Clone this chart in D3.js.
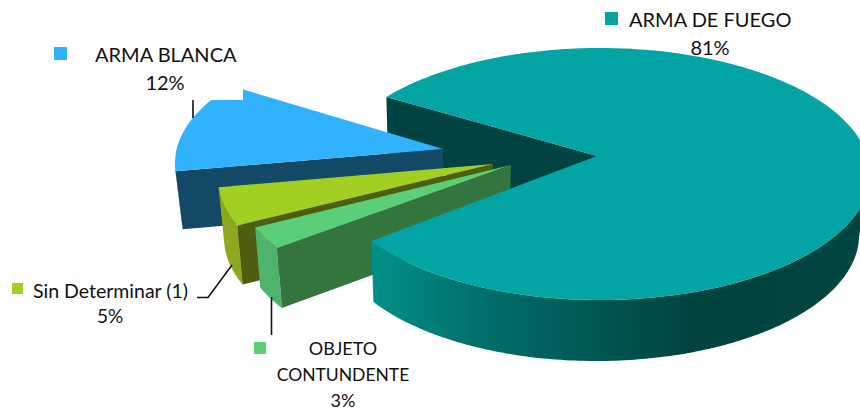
<!DOCTYPE html>
<html>
<head>
<meta charset="utf-8">
<style>
body { margin: 0; background: #fff; }
svg { display: block; }
text { font-family: Lato, "Open Sans", sans-serif; fill: #111; }
</style>
</head>
<body>
<svg width="860" height="410"></svg>
<script src="https://d3js.org/d3.v7.min.js"></script>
<script>
// datos, en el orden en que gira la torta
// los rotulos del grafico estan redondeados, los angulos se leen de la imagen
var categories = ['ARMA DE FUEGO', 'OBJETO CONTUNDENTE', 'Sin Determinar (1)', 'ARMA BLANCA'];
var values = [80.6, 2.9, 5.0, 11.5];

// colores: tapa, pared radial, pared exterior
var topColors = ['#02a5a4', '#5bce78', '#a3ce22', '#31b2fd'];
var sideColors = ['#004340', '#33743f', '#4e5d10', '#134966'];
var rimColors = ['url(#rimTeal)', '#4fb36c', '#8ba81f', '#134966'];

// centro de la elipse de cada porcion (torta explotada)
var centerX = [600, 506, 488, 445];
var centerY = [174, 181, 179, 163];
// la perspectiva desplaza el vertice respecto del centro de la elipse
var apexX = [-3, 5, 5, -2];
var apexY = [-18, -16, -15, -14];
var depths = [61, 60, 59, 58];
var radiusX = 270, radiusY = 126;
// las verticales convergen hacia abajo
var vanishX = 450, converge = 0.026;

var svg = d3.select('svg');
var grad = svg.append('defs').append('linearGradient')
    .attr('id', 'rimTeal')
    .attr('gradientUnits', 'userSpaceOnUse')
    .attr('x1', 374).attr('x2', 860).attr('y1', 0).attr('y2', 0);
[[0, '#009089'], [0.2, '#00726d'], [0.4, '#005c58'], [0.66, '#00433f'], [1, '#004541']].forEach(function (s) {
    grad.append('stop').attr('offset', s[0]).attr('stop-color', s[1]);
});

var start = 307.7 * Math.PI / 180;
var pie = d3.pie().sort(null).startAngle(start).endAngle(start + 2 * Math.PI);
var arcs = pie(values);
var pct = d3.format('.0f');

var line = d3.line().x(function (p) { return p[0]; }).y(function (p) { return p[1]; });

function bottom(p, i) {
    return [p[0] + (vanishX - p[0]) * converge, p[1] + depths[i]];
}

// cada porcion lleva sus propias escalas de unidad a pagina
function slice(i) {
    var x = d3.scaleLinear().domain([-1, 1]).range([centerX[i] - radiusX, centerX[i] + radiusX]);
    var y = d3.scaleLinear().domain([-1, 1]).range([centerY[i] - radiusY, centerY[i] + radiusY]);
    var a = arcs[i];
    var angles = d3.range(a.startAngle, a.endAngle, Math.PI / 180).concat(a.endAngle);
    var rim = angles.map(function (t) { return [x(Math.sin(t)), y(-Math.cos(t))]; });
    var front = angles.filter(function (t) { return Math.cos(t) < 0; })
        .map(function (t) { return [x(Math.sin(t)), y(-Math.cos(t))]; });
    return {
        rim: rim,
        front: front,
        apex: [x(0) + apexX[i], y(0) + apexY[i]]
    };
}

function drawSide(i) {
    var s = slice(i);
    var pts = [s.rim[0], s.apex, bottom(s.apex, i), bottom(s.rim[0], i)];
    svg.append('path').attr('d', line(pts) + 'Z').attr('fill', sideColors[i]);
}
function drawRim(i) {
    var s = slice(i);
    var low = s.front.map(function (p) { return bottom(p, i); }).reverse();
    svg.append('path').attr('d', line(s.front.concat(low)) + 'Z').attr('fill', rimColors[i]);
}
function drawTop(i) {
    var s = slice(i);
    svg.append('path').attr('d', line(s.rim.concat([s.apex])) + 'Z').attr('fill', topColors[i]);
}

// orden de pintado: fondo a frente
drawSide(0);
[3, 2, 1].forEach(function (i) {
    drawRim(i);
    drawSide(i);
    drawTop(i);
});
drawRim(0);
drawTop(0);

// el rotulo de ARMA BLANCA tiene fondo blanco y tapa la punta de la porcion
svg.append('rect').attr('x', 60).attr('y', 40).attr('width', 183).attr('height', 60).attr('fill', '#fff');

// lineas guia
[
    [[193, 100], [193, 118]],
    [[197, 297.5], [208, 297.5], [232, 265]],
    [[271.5, 297], [271.5, 335]]
].forEach(function (pts) {
    svg.append('path').attr('d', line(pts)).attr('fill', 'none').attr('stroke', '#111').attr('stroke-width', 1.6);
});

// leyendas
function label(txt, x, y, size, anchor) {
    svg.append('text').attr('x', x).attr('y', y).attr('font-size', size)
        .attr('text-anchor', anchor || 'middle').text(txt);
}
function swatch(i, x, y, s) {
    svg.append('rect').attr('x', x).attr('y', y).attr('width', s).attr('height', s).attr('fill', topColors[i]);
}

swatch(0, 605, 12, 13);
label(categories[0], 629, 27, 20, 'start');
label(pct(values[0]) + '%', 710, 55, 20);

swatch(3, 54, 47, 13);
label(categories[3], 95, 62, 20, 'start');
label(pct(values[3]) + '%', 165, 90, 20);

swatch(2, 12, 283, 11);
label(categories[2], 33, 298, 19.5, 'start');
label(pct(values[2]) + '%', 110, 323, 19);

swatch(1, 254, 342, 12);
var parts = categories[1].split(' ');
label(parts[0], 343, 355, 18);
label(parts[1], 343, 381, 17.5);
label(pct(values[1]) + '%', 343, 407, 18);
</script>
</body>
</html>
